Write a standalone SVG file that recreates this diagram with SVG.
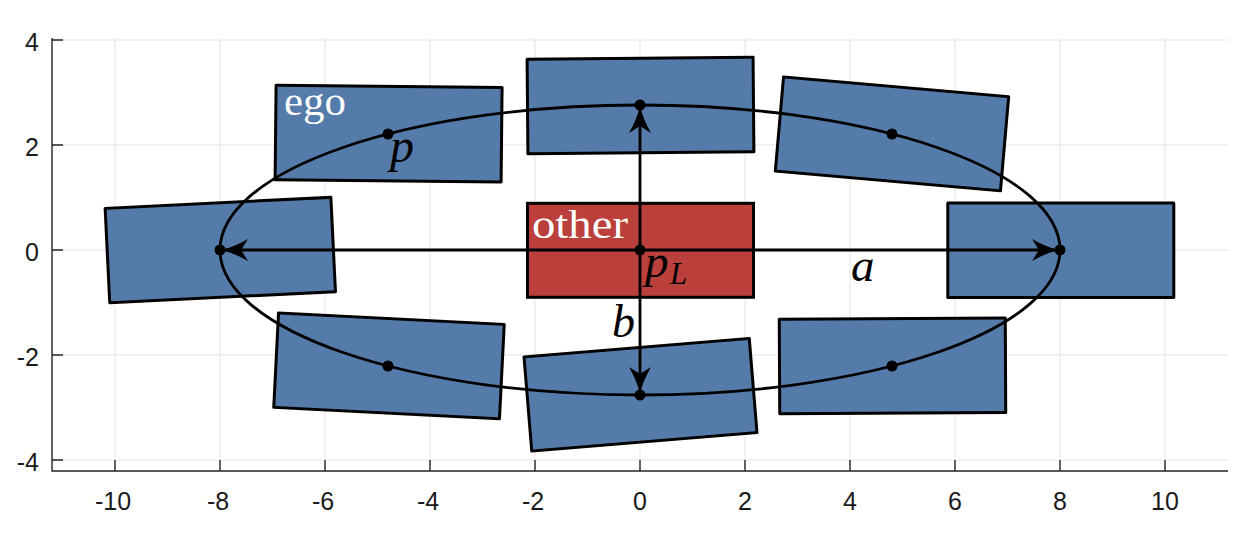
<svg xmlns="http://www.w3.org/2000/svg" width="1251" height="543" viewBox="0 0 1251 543">
<style>
.grid{stroke:#e3e3e3;stroke-width:1;fill:none}
.axis{stroke:#262626;stroke-width:1.4;fill:none}
.tick{font-family:"Liberation Sans",Arial,sans-serif;font-size:25px;fill:#1a1a1a}
.car{fill:#557BAA;stroke:#000;stroke-width:3;stroke-linejoin:round}
.other{fill:#BB3F3B;stroke:#000;stroke-width:3}
.conn{stroke:#000;stroke-width:2.8;fill:none}
.dot{fill:#000}
.lbl{font-family:"Liberation Serif","Times New Roman",serif;font-size:39px;fill:#fff}
.math{font-family:"Liberation Serif","Times New Roman",serif;font-style:italic;fill:#000}
</style>
<defs>
<marker id="ah" markerUnits="userSpaceOnUse" markerWidth="30" markerHeight="26" viewBox="-28 -13 30 26" refX="0" refY="0" orient="auto">
<path d="M0,0 Q-14,-4 -26,-11 L-19,0 L-26,11 Q-14,4 0,0 Z" fill="#000"/>
</marker>
</defs>
<rect width="1251" height="543" fill="#fff"/>
<g id="grid">
<path class="grid" d="M115,38V471M220,38V471M325,38V471M430,38V471M535,38V471M640,38V471M745,38V471M850,38V471M955,38V471M1060,38V471M1165,38V471"/>
<path class="grid" d="M52,40H1228M52,145H1228M52,250H1228M52,355H1228M52,460H1228"/>
</g>
<g id="axes">
<path class="axis" d="M52,38V471H1228"/>
<path class="axis" d="M52,40H63M52,145H63M52,250H63M52,355H63M52,460H63"/>
<path class="axis" d="M115,471V460M220,471V460M325,471V460M430,471V460M535,471V460M640,471V460M745,471V460M850,471V460M955,471V460M1060,471V460M1165,471V460"/>
<g class="tick" text-anchor="end">
<text x="39" y="51">4</text>
<text x="39" y="156">2</text>
<text x="39" y="261">0</text>
<text x="39" y="366">-2</text>
<text x="39" y="471">-4</text>
</g>
<g class="tick" text-anchor="middle">
<text x="113" y="510">-10</text>
<text x="218" y="510">-8</text>
<text x="323" y="510">-6</text>
<text x="428" y="510">-4</text>
<text x="533" y="510">-2</text>
<text x="640" y="510">0</text>
<text x="745" y="510">2</text>
<text x="850" y="510">4</text>
<text x="955" y="510">6</text>
<text x="1060" y="510">8</text>
<text x="1165" y="510">10</text>
</g>
</g>
<g id="car-tl" transform="translate(388.6,133.6) rotate(0.6)"><rect class="car" x="-113" y="-47.2" width="226" height="94.5"/></g>
<g id="car-tc" transform="translate(640.5,105.5) rotate(-0.5)"><rect class="car" x="-113" y="-47.2" width="226" height="94.5"/></g>
<g id="car-tr" transform="translate(892,133.8) rotate(5)"><rect class="car" x="-113" y="-47.2" width="226" height="94.5"/></g>
<g id="car-ml" transform="translate(220.3,250) rotate(-2.8)"><rect class="car" x="-113" y="-47.2" width="226" height="94.5"/></g>
<g id="car-mr" transform="translate(1060.8,250.3)"><rect class="car" x="-113" y="-47.2" width="226" height="94.5"/></g>
<g id="car-bl" transform="translate(389,365.8) rotate(2.9)"><rect class="car" x="-113" y="-47.2" width="226" height="94.5"/></g>
<g id="car-bc" transform="translate(640.5,394.7) rotate(-4.7)"><rect class="car" x="-113" y="-47.2" width="226" height="94.5"/></g>
<g id="car-br" transform="translate(892.5,365.8) rotate(-0.3)"><rect class="car" x="-113" y="-47.2" width="226" height="94.5"/></g>
<g id="other"><rect class="other" x="527.5" y="203.3" width="226" height="94"/></g>
<g id="connectors">
<ellipse class="conn" cx="640" cy="250" rx="420" ry="145"/>
<line class="conn" x1="640" y1="250" x2="222" y2="250" marker-end="url(#ah)"/>
<line class="conn" x1="640" y1="250" x2="1058" y2="250" marker-end="url(#ah)"/>
<line class="conn" x1="640" y1="250" x2="640" y2="107" marker-end="url(#ah)"/>
<line class="conn" x1="640" y1="250" x2="640" y2="393" marker-end="url(#ah)"/>
</g>
<g id="points">
<circle class="dot" cx="640" cy="250" r="5.5"/>
<circle class="dot" cx="220" cy="250" r="5.5"/>
<circle class="dot" cx="1060" cy="250" r="5.5"/>
<circle class="dot" cx="640" cy="105" r="5.5"/>
<circle class="dot" cx="640" cy="395" r="5.5"/>
<circle class="dot" cx="388" cy="134" r="5.5"/>
<circle class="dot" cx="892" cy="134" r="5.5"/>
<circle class="dot" cx="388" cy="366" r="5.5"/>
<circle class="dot" cx="892" cy="366" r="5.5"/>
</g>
<g id="labels">
<text class="lbl" x="284" y="115" textLength="62" lengthAdjust="spacingAndGlyphs">ego</text>
<text class="lbl" x="532" y="238" textLength="96" lengthAdjust="spacingAndGlyphs">other</text>
<text class="math" x="390" y="162" font-size="48">p</text>
<text class="math" x="645" y="277" font-size="47">p</text>
<text class="math" x="670" y="284" font-size="31">L</text>
<text class="math" x="851" y="281" font-size="47">a</text>
<text class="math" x="612" y="337" font-size="46">b</text>
</g>
</svg>
